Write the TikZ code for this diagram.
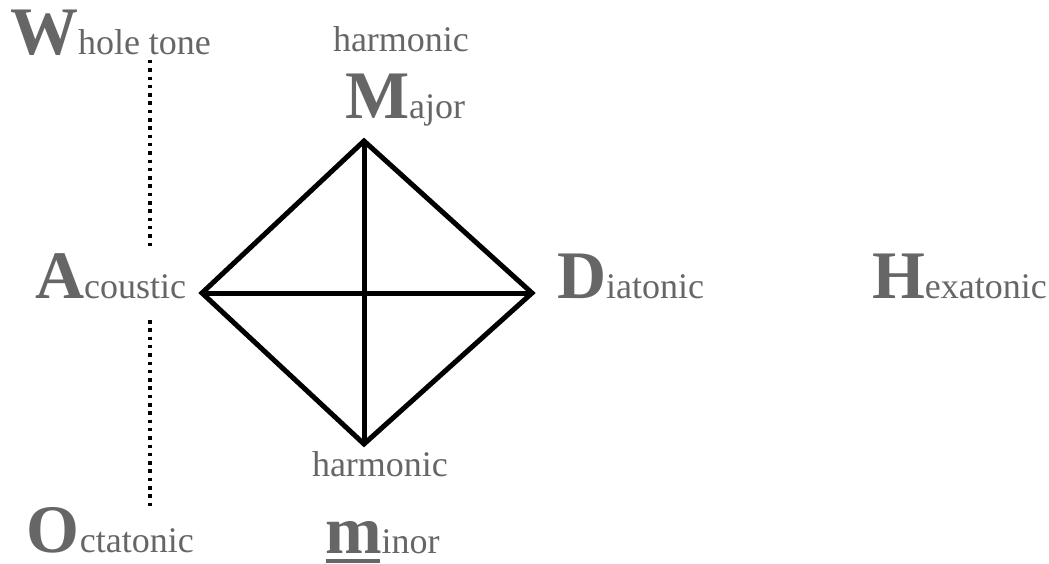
\documentclass[tikz,border=0pt]{standalone}
\usepackage{fontspec}
\setmainfont{Liberation Serif}
\definecolor{labelgray}{RGB}{102,102,102}
\newcommand{\BigL}[1]{{\fontsize{68}{70}\selectfont\bfseries #1}}
\newcommand{\SmallL}[1]{{\fontsize{36}{40}\selectfont #1}}
\begin{document}
\begin{tikzpicture}[x=1pt,y=-1pt,
  lbl/.style={anchor=base west,inner sep=0pt,outer sep=0pt,text=labelgray},
  edge/.style={line width=5pt,black,line join=miter,line cap=butt},
  dots/.style={line width=3.5pt,black,dash pattern=on 3.5pt off 4.8pt}]
\useasboundingbox (0,0) rectangle (1049,564);
% labels
\node[lbl] (whole) at (10,55) {\BigL{W}\SmallL{hole tone}};
\node[lbl] (hmaj) at (333,52) {\SmallL{harmonic}};
\node[lbl] (major) at (345,119) {\BigL{M}\SmallL{ajor}};
\node[lbl] (acoustic) at (35,298) {\BigL{A}\SmallL{coustic}};
\node[lbl] (diatonic) at (557,298) {\BigL{D}\SmallL{iatonic}};
\node[lbl] (hexatonic) at (872,298) {\BigL{H}\SmallL{exatonic}};
\node[lbl] (hmin) at (312,476) {\SmallL{harmonic}};
\node[lbl] (octatonic) at (27,552) {\BigL{O}\SmallL{ctatonic}};
\node[lbl] (minor) at (325,553) {\BigL{m}\SmallL{inor}};
% diamond vertices
\coordinate (T) at (364,141);
\coordinate (B) at (364,444);
\coordinate (L) at (202,293);
\coordinate (R) at (532,293);
\draw[edge] (T) -- (R) -- (B) -- (L) -- cycle;
\draw[edge] (T) -- (B);
\draw[edge] (L) -- (R);
% dotted lines
\coordinate (d1a) at (150,60);
\coordinate (d1b) at (150,248);
\coordinate (d2a) at (150,320);
\coordinate (d2b) at (150,510);
\draw[dots] (d1a) -- (d1b);
\draw[dots] (d2a) -- (d2b);
% underline of m
\coordinate (u1) at (326,561);
\coordinate (u2) at (380,561);
\draw[line width=4pt,labelgray] (u1) -- (u2);
\end{tikzpicture}
\end{document}
